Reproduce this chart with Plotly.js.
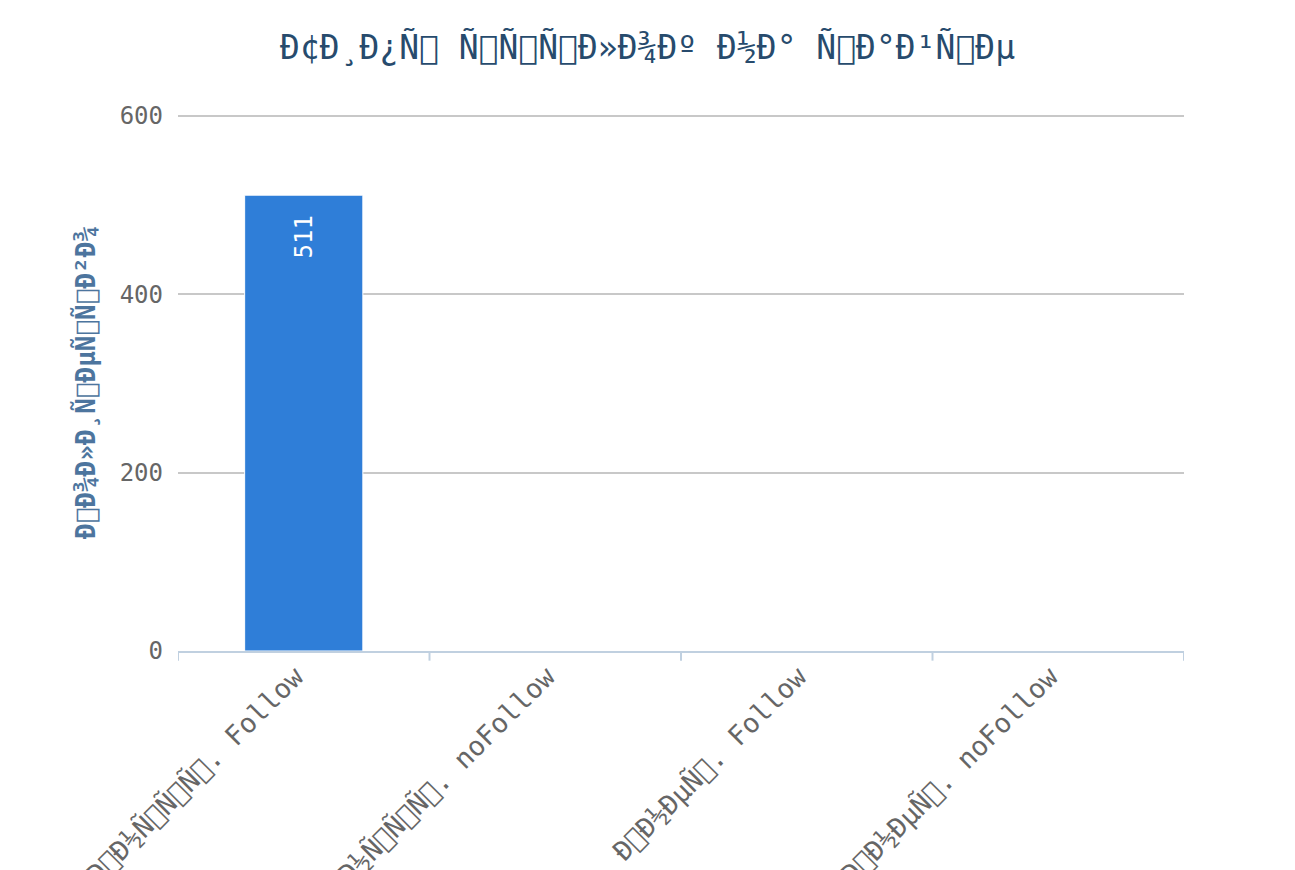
<!DOCTYPE html>
<html><head><meta charset="utf-8">
<script src="https://cdn.plot.ly/plotly-3.0.1.min.js"></script>
<style>html,body{margin:0;padding:0;background:#fff;}#chart{width:1295px;height:870px;}</style>
</head><body><div id="chart"></div>
<script>
const chartTitle = "\u00D0\u00A2\u00D0\u00B8\u00D0\u00BF\u00D1\u008B \u00D1\u0081\u00D1\u0081\u00D1\u008B\u00D0\u00BB\u00D0\u00BE\u00D0\u00BA \u00D0\u00BD\u00D0\u00B0 \u00D1\u0081\u00D0\u00B0\u00D0\u00B9\u00D1\u0082\u00D0\u00B5";
const yTitle = "\u00D0\u009A\u00D0\u00BE\u00D0\u00BB\u00D0\u00B8\u00D1\u0087\u00D0\u00B5\u00D1\u0081\u00D1\u0082\u00D0\u00B2\u00D0\u00BE";
const categories = [
  "\u00D0\u0092\u00D0\u00BD\u00D1\u0083\u00D1\u0082\u00D1\u0080. Follow",
  "\u00D0\u0092\u00D0\u00BD\u00D1\u0083\u00D1\u0082\u00D1\u0080. noFollow",
  "\u00D0\u0092\u00D0\u00BD\u00D0\u00B5\u00D1\u0088. Follow",
  "\u00D0\u0092\u00D0\u00BD\u00D0\u00B5\u00D1\u0088. noFollow"
];
const values = [511, 0, 0, 0];
const yTicks = [0, 200, 400, 600];

// C1 control characters are drawn as the font's "missing glyph" box, as in the reference
const shown = s => s.replace(/[\u0080-\u009F]/g, '\uE000');

const idx = categories.map((c, i) => i);
const boundaries = [-0.5].concat(idx.map(i => i + 0.5));

const trace = {
  type: 'bar',
  x: idx,
  y: values,
  marker: {color: '#2f7ed8', line: {color: '#ffffff', width: 1}},
  hoverinfo: 'y'
};

const labelAnnotations = idx.filter(i => values[i] > 0).map(i => ({
  x: i, y: values[i], xref: 'x', yref: 'y',
  text: String(values[i]), showarrow: false,
  textangle: -90, yanchor: 'top', xanchor: 'center', yshift: -18,
  font: {family: 'DejaVu Sans Mono', size: 24, color: '#ffffff'}
}));

const layout = {
  width: 1295, height: 870,
  paper_bgcolor: '#ffffff', plot_bgcolor: '#ffffff',
  margin: {l: 178, r: 111, t: 114, b: 219},
  showlegend: false,
  bargap: 0.53,
  title: {text: shown(chartTitle), x: 0.5, xanchor: 'center', y: 0.945, yanchor: 'middle',
          font: {family: 'DejaVu Sans Mono', size: 33, color: '#274b6d'}},
  xaxis: {
    range: [-0.5, categories.length - 0.5],
    tickvals: idx,
    ticktext: categories.map(shown),
    tickangle: -45,
    ticks: '',
    ticklabelshift: -8,
    ticklabelstandoff: -3,
    tickfont: {family: 'DejaVu Sans Mono', size: 27, color: '#666666'},
    showgrid: false,
    showline: true, linecolor: '#c0d0e0', linewidth: 2,
    zeroline: false,
    fixedrange: true
  },
  yaxis: {
    range: [0, 602],
    tickvals: yTicks,
    ticktext: yTicks.map(String),
    ticks: '',
    tickfont: {family: 'DejaVu Sans Mono', size: 24, color: '#666666'},
    showgrid: true, gridcolor: '#c8c8c8', gridwidth: 2,
    zeroline: false, showline: false,
    ticklabelstandoff: 14,
    title: {text: shown(yTitle), standoff: 16, font: {family: 'DejaVu Sans Mono', size: 26, color: '#4d759e', weight: 'bold'}},
    fixedrange: true
  },
  annotations: labelAnnotations,
  shapes: boundaries.map(b => ({
    type: 'line', xref: 'x', yref: 'paper', x0: b, x1: b, y0: 0, y1: -0.018,
    line: {color: '#c0d0e0', width: 2}
  }))
};

Plotly.newPlot('chart', [trace], layout, {displayModeBar: false, staticPlot: true});
</script>
</body></html>
